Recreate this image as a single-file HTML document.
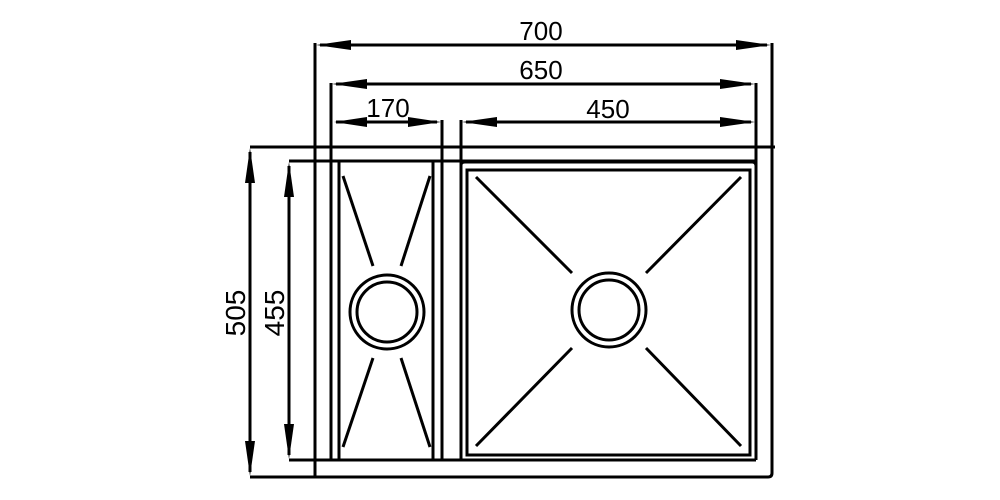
<!DOCTYPE html>
<html><head><meta charset="utf-8"><style>
html,body{margin:0;padding:0;background:#fff}
svg{display:block}
text{font-family:"Liberation Sans",sans-serif;font-size:26px;fill:#000}
</style></head><body>
<svg width="1000" height="500" viewBox="0 0 1000 500" xmlns="http://www.w3.org/2000/svg">
<g stroke="#000" stroke-width="3" fill="none">
<!-- extension lines -->
<line x1="315" y1="43" x2="315" y2="478"/>
<path d="M772 43 V473 Q772 477 768 477 H250"/>
<line x1="331" y1="83" x2="331" y2="460"/>
<line x1="756" y1="83" x2="756" y2="460"/>
<line x1="442" y1="120" x2="442" y2="460"/>
<line x1="461" y1="120" x2="461" y2="460"/>
<line x1="250" y1="147" x2="775" y2="147"/>
<line x1="289" y1="161" x2="756" y2="161"/>
<line x1="289" y1="460" x2="756" y2="460"/>
<!-- dimension lines -->
<line x1="320" y1="45" x2="767" y2="45"/>
<line x1="336" y1="84" x2="751" y2="84"/>
<line x1="336" y1="122" x2="437" y2="122"/>
<line x1="466" y1="122" x2="751" y2="122"/>
<line x1="250" y1="152" x2="250" y2="472"/>
<line x1="289" y1="166" x2="289" y2="455"/>
<!-- small bowl -->
<line x1="339" y1="161" x2="339" y2="460"/>
<line x1="433" y1="161" x2="433" y2="460"/>
<line x1="343" y1="176" x2="373" y2="266"/>
<line x1="430" y1="176" x2="401" y2="266"/>
<line x1="343" y1="447" x2="373" y2="358"/>
<line x1="430" y1="447" x2="401" y2="358"/>
<circle cx="387" cy="312" r="37"/>
<circle cx="387" cy="312" r="30"/>
<!-- large bowl -->
<path d="M467 455 V170 H750 V455 Z"/>
<path d="M461 165 Q461 162 465 162 H752 Q756 162 756 166"/>
<line x1="476" y1="177" x2="572" y2="273"/>
<line x1="741" y1="177" x2="646" y2="273"/>
<line x1="476" y1="446" x2="572" y2="348"/>
<line x1="741" y1="446" x2="646" y2="348"/>
<circle cx="609" cy="310" r="37"/>
<circle cx="609" cy="310" r="30"/>
</g>
<g fill="#000">
<!-- horizontal arrows -->
<polygon points="316,45 351,40 351,50"/>
<polygon points="771,45 736,40 736,50"/>
<polygon points="332,84 367,79 367,89"/>
<polygon points="755,84 720,79 720,89"/>
<polygon points="334,122 367,117 367,127"/>
<polygon points="441,122 408,117 408,127"/>
<polygon points="462,122 497,117 497,127"/>
<polygon points="755,122 720,117 720,127"/>
<!-- vertical arrows -->
<polygon points="250,148 245,183 255,183"/>
<polygon points="250,476 245,441 255,441"/>
<polygon points="289,162 284,197 294,197"/>
<polygon points="289,459 284,424 294,424"/>
</g>
<text x="541" y="40" text-anchor="middle">700</text>
<text x="541" y="79" text-anchor="middle">650</text>
<text x="388" y="117" text-anchor="middle">170</text>
<text x="608" y="118" text-anchor="middle">450</text>
<text transform="translate(245,313) rotate(-90)" text-anchor="middle" style="font-size:28px">505</text>
<text transform="translate(284,313) rotate(-90)" text-anchor="middle" style="font-size:28px">455</text>
</svg>
</body></html>
